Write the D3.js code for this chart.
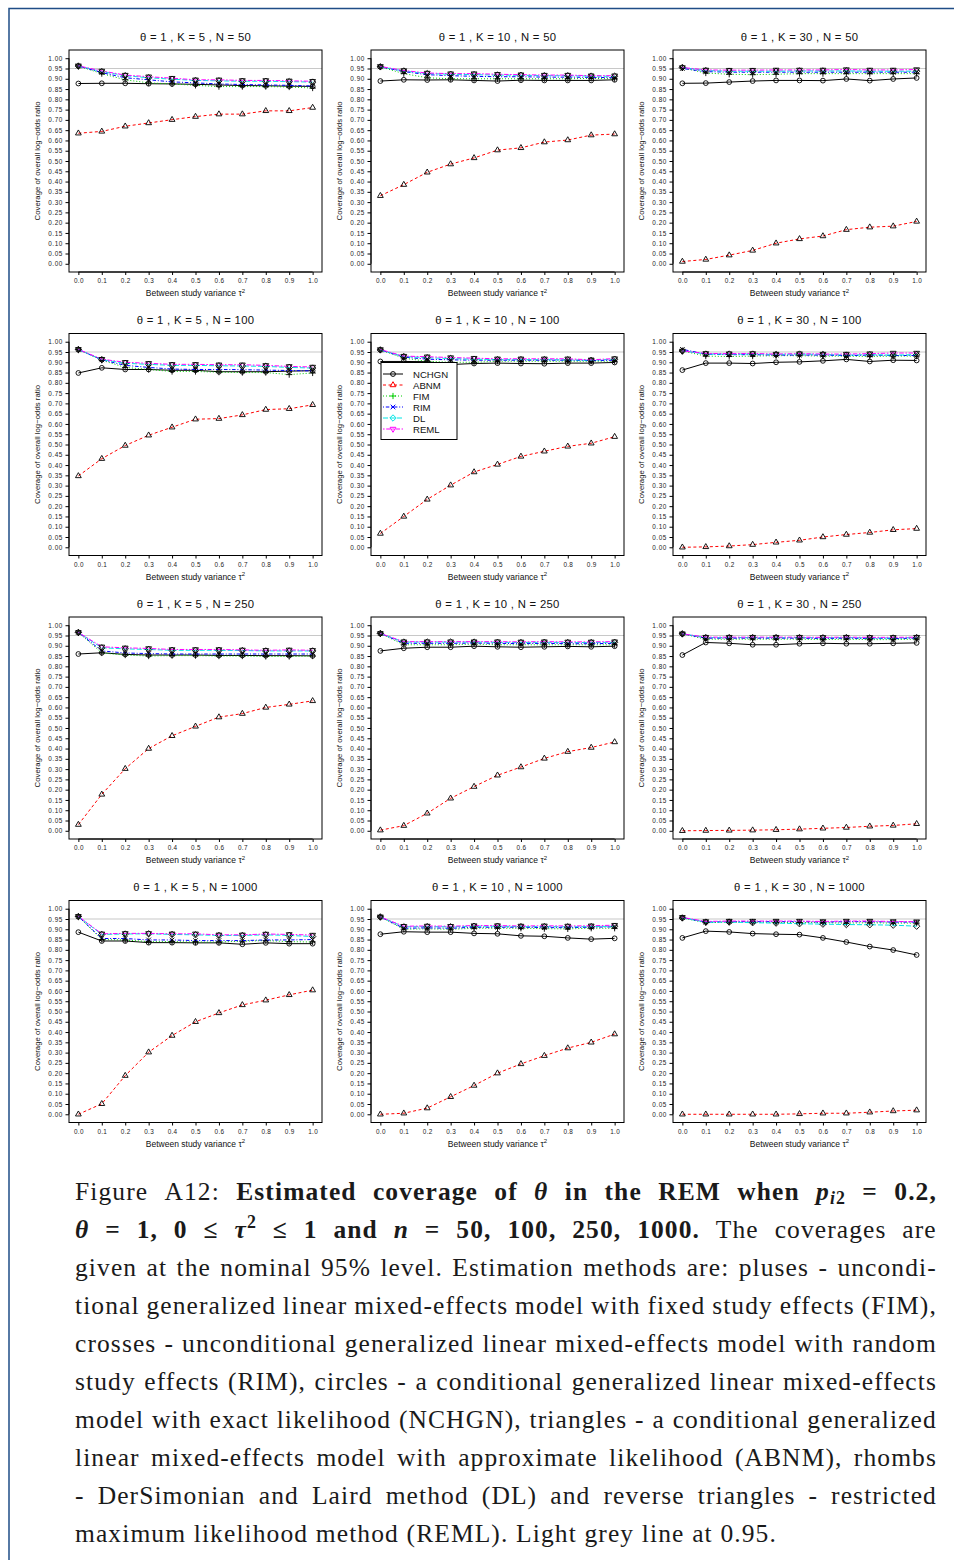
<!DOCTYPE html>
<html>
<head>
<meta charset="utf-8">
<script src="https://cdn.jsdelivr.net/npm/d3@7"></script>
<style>
  html, body { margin: 0; padding: 0; background: #fff; }
  #page { position: relative; width: 955px; height: 1560px; overflow: hidden; }
  svg { position: absolute; left: 0; top: 0; }
  #caption {
    position: absolute; left: 75px; top: 1173px; width: 862px;
    font-family: "Liberation Serif", "Times New Roman", serif;
    font-size: 25.5px; line-height: 38px; color: #1a1a1a;
  }
  #caption .line { display: flex; justify-content: space-between; white-space: nowrap; height: 38px; }
  #caption .line.last { justify-content: flex-start; }
  #caption .line.last span { margin-right: 0.3em; }
  #caption sub { font-size: 0.7em; vertical-align: -0.25em; line-height: 0; }
  #caption sup { font-size: 0.7em; vertical-align: 0.55em; line-height: 0; }
</style>
</head>
<body>
<div id="page">
  <svg id="fig" width="955" height="1560"></svg>
  <div id="caption"></div>
</div>
<script>
// Between-study variance grid (x axis) and the simulation settings
const tau2 = [0.0, 0.1, 0.2, 0.3, 0.4, 0.5, 0.6, 0.7, 0.8, 0.9, 1.0];
const kValues = [5, 10, 30];
const nValues = [50, 100, 250, 1000];
const methods = ["NCHGN", "ABNM", "FIM", "RIM", "DL", "REML"];
const xTickLabels = ["0.0","0.1","0.2","0.3","0.4","0.5","0.6","0.7","0.8","0.9","1.0"];
const yTickValues = [0,0.05,0.1,0.15,0.2,0.25,0.3,0.35,0.4,0.45,0.5,0.55,0.6,0.65,0.7,0.75,0.8,0.85,0.9,0.95,1.0];
const nominal = 0.95;

// Coverage per method; one row per panel, panels ordered (N=50: K=5,10,30), (N=100: ...), ...
const NCHGN = [
  [0.877,0.878,0.878,0.876,0.875,0.873,0.870,0.867,0.866,0.864,0.863],
  [0.889,0.895,0.894,0.895,0.892,0.889,0.893,0.892,0.892,0.892,0.895],
  [0.878,0.879,0.884,0.889,0.892,0.892,0.891,0.899,0.891,0.899,0.904],
  [0.848,0.873,0.865,0.865,0.861,0.861,0.854,0.854,0.854,0.857,0.859],
  [0.904,0.904,0.903,0.889,0.894,0.896,0.894,0.893,0.896,0.896,0.899],
  [0.862,0.896,0.896,0.894,0.900,0.902,0.907,0.914,0.904,0.910,0.909],
  [0.860,0.866,0.858,0.855,0.855,0.855,0.853,0.853,0.852,0.852,0.851],
  [0.875,0.888,0.893,0.893,0.898,0.895,0.893,0.895,0.897,0.895,0.898],
  [0.855,0.916,0.912,0.905,0.905,0.910,0.912,0.910,0.910,0.912,0.914],
  [0.886,0.843,0.843,0.835,0.835,0.834,0.834,0.827,0.834,0.830,0.830],
  [0.876,0.888,0.886,0.886,0.880,0.878,0.868,0.866,0.858,0.852,0.856],
  [0.858,0.891,0.887,0.879,0.876,0.874,0.858,0.838,0.816,0.799,0.775]
];
const ABNM = [
  [0.635,0.644,0.669,0.685,0.701,0.716,0.728,0.728,0.744,0.744,0.760],
  [0.331,0.385,0.445,0.485,0.515,0.553,0.564,0.592,0.602,0.626,0.631],
  [0.011,0.021,0.042,0.065,0.100,0.121,0.135,0.166,0.178,0.183,0.206],
  [0.347,0.431,0.495,0.545,0.584,0.623,0.626,0.644,0.670,0.674,0.693],
  [0.067,0.150,0.233,0.302,0.366,0.403,0.442,0.467,0.491,0.506,0.538],
  [0.000,0.002,0.006,0.013,0.024,0.034,0.050,0.062,0.072,0.085,0.091],
  [0.030,0.177,0.302,0.400,0.462,0.508,0.553,0.570,0.600,0.615,0.632],
  [0.003,0.025,0.085,0.158,0.215,0.270,0.310,0.352,0.385,0.405,0.432],
  [0.000,0.001,0.002,0.003,0.005,0.008,0.012,0.016,0.022,0.026,0.034],
  [0.000,0.051,0.188,0.302,0.383,0.450,0.493,0.532,0.555,0.581,0.604],
  [0.000,0.005,0.030,0.085,0.140,0.200,0.245,0.285,0.322,0.350,0.390],
  [0.000,0.000,0.000,0.000,0.000,0.002,0.005,0.005,0.010,0.016,0.020]
];
const FIM = [
  [0.962,0.925,0.895,0.880,0.875,0.868,0.862,0.862,0.862,0.860,0.855],
  [0.958,0.925,0.905,0.900,0.900,0.900,0.900,0.900,0.900,0.902,0.900],
  [0.953,0.928,0.922,0.920,0.922,0.925,0.925,0.925,0.925,0.925,0.925],
  [0.962,0.910,0.875,0.865,0.855,0.855,0.852,0.850,0.850,0.840,0.848],
  [0.960,0.920,0.905,0.900,0.900,0.905,0.905,0.905,0.905,0.905,0.905],
  [0.955,0.930,0.928,0.930,0.932,0.932,0.930,0.930,0.928,0.930,0.930],
  [0.965,0.865,0.855,0.850,0.852,0.852,0.850,0.850,0.848,0.848,0.850],
  [0.960,0.905,0.905,0.905,0.908,0.905,0.905,0.905,0.905,0.905,0.905],
  [0.958,0.932,0.932,0.932,0.932,0.932,0.930,0.932,0.930,0.930,0.932],
  [0.962,0.850,0.848,0.840,0.840,0.838,0.838,0.842,0.845,0.840,0.838],
  [0.960,0.900,0.902,0.900,0.905,0.905,0.905,0.903,0.902,0.905,0.905],
  [0.955,0.932,0.935,0.935,0.933,0.933,0.932,0.930,0.932,0.930,0.930]
];
const RIM = [
  [0.962,0.930,0.905,0.895,0.885,0.880,0.875,0.872,0.870,0.868,0.865],
  [0.958,0.935,0.920,0.915,0.912,0.910,0.910,0.908,0.908,0.907,0.905],
  [0.950,0.935,0.932,0.932,0.932,0.932,0.932,0.932,0.932,0.932,0.932],
  [0.962,0.912,0.885,0.875,0.867,0.865,0.865,0.864,0.862,0.860,0.858],
  [0.960,0.925,0.915,0.912,0.910,0.910,0.910,0.910,0.910,0.908,0.910],
  [0.963,0.940,0.937,0.937,0.935,0.935,0.935,0.932,0.935,0.933,0.933],
  [0.965,0.875,0.865,0.862,0.860,0.860,0.860,0.860,0.860,0.860,0.860],
  [0.960,0.912,0.912,0.912,0.913,0.912,0.910,0.912,0.910,0.910,0.912],
  [0.958,0.937,0.937,0.937,0.937,0.937,0.935,0.937,0.935,0.935,0.937],
  [0.962,0.855,0.855,0.848,0.848,0.845,0.845,0.845,0.848,0.848,0.850],
  [0.960,0.905,0.907,0.905,0.910,0.910,0.910,0.908,0.908,0.910,0.912],
  [0.957,0.935,0.937,0.937,0.937,0.937,0.935,0.937,0.937,0.935,0.935]
];
const DL = [
  [0.962,0.935,0.915,0.905,0.898,0.892,0.890,0.888,0.888,0.886,0.884],
  [0.958,0.938,0.925,0.922,0.920,0.918,0.917,0.915,0.915,0.913,0.912],
  [0.955,0.940,0.937,0.937,0.937,0.938,0.938,0.938,0.937,0.937,0.937],
  [0.962,0.913,0.895,0.890,0.885,0.885,0.883,0.882,0.880,0.875,0.872],
  [0.960,0.928,0.922,0.918,0.915,0.913,0.913,0.913,0.912,0.910,0.915],
  [0.955,0.940,0.940,0.940,0.938,0.940,0.938,0.935,0.937,0.935,0.937],
  [0.965,0.890,0.885,0.882,0.878,0.878,0.878,0.877,0.875,0.875,0.875],
  [0.960,0.918,0.918,0.918,0.918,0.917,0.916,0.917,0.916,0.916,0.917],
  [0.958,0.940,0.940,0.940,0.940,0.940,0.939,0.940,0.938,0.938,0.940],
  [0.962,0.875,0.877,0.878,0.875,0.873,0.870,0.870,0.873,0.870,0.865],
  [0.960,0.912,0.913,0.912,0.915,0.915,0.913,0.913,0.912,0.913,0.915],
  [0.955,0.935,0.935,0.932,0.930,0.927,0.925,0.923,0.922,0.920,0.915]
];
const REML = [
  [0.963,0.938,0.918,0.910,0.903,0.895,0.895,0.892,0.892,0.890,0.888],
  [0.960,0.940,0.928,0.925,0.925,0.922,0.920,0.918,0.918,0.915,0.915],
  [0.955,0.943,0.942,0.942,0.943,0.943,0.943,0.945,0.943,0.943,0.945],
  [0.963,0.915,0.900,0.895,0.890,0.890,0.888,0.888,0.885,0.880,0.877],
  [0.962,0.930,0.927,0.923,0.920,0.917,0.917,0.917,0.917,0.912,0.918],
  [0.955,0.943,0.942,0.943,0.940,0.942,0.940,0.940,0.942,0.945,0.945],
  [0.965,0.895,0.890,0.887,0.882,0.882,0.882,0.880,0.878,0.880,0.878],
  [0.960,0.920,0.920,0.920,0.920,0.920,0.919,0.920,0.919,0.919,0.920],
  [0.958,0.942,0.942,0.942,0.942,0.942,0.941,0.942,0.941,0.941,0.942],
  [0.963,0.878,0.880,0.880,0.878,0.878,0.873,0.873,0.877,0.875,0.872],
  [0.960,0.915,0.916,0.915,0.918,0.918,0.916,0.917,0.916,0.917,0.920],
  [0.958,0.938,0.940,0.940,0.940,0.940,0.938,0.940,0.940,0.938,0.937]
];
const coverage = { NCHGN, ABNM, FIM, RIM, DL, REML };

// Drawing styles (R default palette, lty 1..6, pch 1..6)
const lineColors = ["#000000", "#ff0000", "#00cd00", "#0000ff", "#00e5e5", "#ff00ff"];
const dashes = ["none", "3,2.5", "1,2", "1,1.8,3.5,1.8", "5,2", "1.6,1.6,4.5,1.6"];
const markerKinds = ["circle", "triangle", "plus", "cross", "diamond", "itriangle"];

function markerPath(kind) {
  switch (kind) {
    case "circle": return "M2.4,0A2.4,2.4 0 1,1 -2.4,0A2.4,2.4 0 1,1 2.4,0Z";
    case "triangle": return "M0,-3.3L2.9,1.7L-2.9,1.7Z";
    case "plus": return "M-3.1,0H3.1M0,-3.1V3.1";
    case "cross": return "M-2.3,-2.3L2.3,2.3M-2.3,2.3L2.3,-2.3";
    case "diamond": return "M0,-3.2L3.2,0L0,3.2L-3.2,0Z";
    case "itriangle": return "M0,3.3L2.9,-1.7L-2.9,-1.7Z";
  }
}

const svg = d3.select("#fig");
svg.append("rect").attr("width", 955).attr("height", 1560).attr("fill", "#fff");

// page frame
svg.append("path")
  .attr("d", "M9,1560V8.5H954")
  .attr("fill", "none").attr("stroke", "#1f4d86").attr("stroke-width", 1.5);

const boxX = [69, 371, 673];
const boxW = 253;
const boxY = [50, 333.5, 617, 900.5];
const boxH = 222;
const sans = "'Liberation Sans', Arial, Helvetica, sans-serif";

nValues.forEach((n, r) => {
  kValues.forEach((k, c) => {
    const idx = r * 3 + c;
    const bx = boxX[c], by = boxY[r];
    const x = d3.scaleLinear().domain([-0.04, 1.04]).range([bx, bx + boxW]);
    const y = d3.scaleLinear().domain([-0.04, 1.04]).range([by + boxH, by]);
    const g = svg.append("g");

    // panel title
    g.append("text")
      .attr("x", bx + boxW / 2).attr("y", by - 9.5)
      .attr("text-anchor", "middle")
      .attr("font-family", sans).attr("font-size", 11.3).attr("fill", "#111")
      .attr("letter-spacing", 0.3)
      .text(`θ = 1 , K = ${k} , N = ${n}`);

    // nominal level reference line
    g.append("line")
      .attr("x1", bx).attr("x2", bx + boxW)
      .attr("y1", y(nominal)).attr("y2", y(nominal))
      .attr("stroke", "#c8c8c8").attr("stroke-width", 1.1);

    // axes
    const yAxis = d3.axisLeft(y).tickValues(yTickValues)
      .tickFormat(d3.format(".2f")).tickSize(3.5).tickSizeOuter(0).tickPadding(2.5);
    const ya = g.append("g").attr("transform", `translate(${bx},0)`).call(yAxis);
    ya.select(".domain").attr("d", `M0,${y(0)}V${y(1)}`).attr("stroke", "#000");
    ya.selectAll("text").attr("font-family", sans).attr("font-size", 6.4)
      .attr("letter-spacing", 0.6).attr("fill", "#222");
    ya.selectAll("line").attr("stroke", "#000");

    const xAxis = d3.axisBottom(x).tickValues(tau2)
      .tickFormat((d, i) => xTickLabels[i]).tickSize(3).tickSizeOuter(0).tickPadding(3.5);
    const xa = g.append("g").attr("transform", `translate(0,${by + boxH})`).call(xAxis);
    xa.select(".domain").attr("d", `M${x(0)},0H${x(1)}`).attr("stroke", "#000");
    xa.selectAll("text").attr("font-family", sans).attr("font-size", 6.4)
      .attr("letter-spacing", 0.3).attr("fill", "#222");
    xa.selectAll("line").attr("stroke", "#000");

    // plot box
    g.append("rect").attr("x", bx).attr("y", by).attr("width", boxW).attr("height", boxH)
      .attr("fill", "none").attr("stroke", "#000").attr("stroke-width", 1);

    // axis titles
    const xl = g.append("text")
      .attr("x", bx + boxW / 2).attr("y", by + boxH + 24)
      .attr("text-anchor", "middle")
      .attr("font-family", sans).attr("font-size", 8.5).attr("fill", "#111");
    xl.append("tspan").text("Between study variance τ");
    xl.append("tspan").attr("dy", -3.5).attr("font-size", 6).text("2");

    g.append("text")
      .attr("transform", `translate(${bx - 29},${by + boxH / 2}) rotate(-90)`)
      .attr("text-anchor", "middle")
      .attr("font-family", sans).attr("font-size", 7.8).attr("fill", "#111")
      .text("Coverage of overall log\u2212odds ratio");

    // series: line then black symbols
    methods.forEach((m, mi) => {
      const vals = coverage[m][idx];
      const pts = tau2.map((t2, i) => [x(t2), y(vals[i])]);
      g.append("path")
        .attr("d", d3.line()(pts))
        .attr("fill", "none").attr("stroke", lineColors[mi])
        .attr("stroke-width", 1)
        .attr("stroke-dasharray", dashes[mi]);
      g.append("g").selectAll("path").data(pts).join("path")
        .attr("transform", d => `translate(${d[0]},${d[1]})`)
        .attr("d", markerPath(markerKinds[mi]))
        .attr("fill", "none").attr("stroke", "#000").attr("stroke-width", 0.9);
    });

    // legend in the K = 10, N = 100 panel
    if (k === 10 && n === 100) {
      const lx = bx + 10, ly = by + 29;
      const lg = g.append("g");
      lg.append("rect").attr("x", lx).attr("y", ly).attr("width", 76).attr("height", 77)
        .attr("fill", "#fff").attr("stroke", "#000").attr("stroke-width", 1);
      methods.forEach((m, mi) => {
        const yy = ly + 11.5 + mi * 11;
        lg.append("line").attr("x1", lx + 2).attr("x2", lx + 22).attr("y1", yy).attr("y2", yy)
          .attr("stroke", lineColors[mi]).attr("stroke-width", 1)
          .attr("stroke-dasharray", dashes[mi]);
        lg.append("path").attr("transform", `translate(${lx + 12},${yy})`)
          .attr("d", markerPath(markerKinds[mi]))
          .attr("fill", "none").attr("stroke", lineColors[mi]).attr("stroke-width", 1);
        lg.append("text").attr("x", lx + 32).attr("y", yy + 3.5)
          .attr("font-family", sans).attr("font-size", 9.6).attr("fill", "#111")
          .text(m);
      });
    }
  });
});

// caption, one justified row per line
const captionLines = [
  'Figure A12: <b>Estimated coverage of <i>θ</i> in the REM when <i>p</i><sub><i>i</i>2</sub> = 0.2,</b>',
  '<b><i>θ</i> = 1, 0 ≤ <i>τ</i><sup>2</sup> ≤ 1 and <i>n</i> = 50, 100, 250, 1000.</b> The coverages are',
  'given at the nominal 95% level. Estimation methods are: pluses - uncondi-',
  'tional generalized linear mixed-effects model with fixed study effects (FIM),',
  'crosses - unconditional generalized linear mixed-effects model with random',
  'study effects (RIM), circles - a conditional generalized linear mixed-effects',
  'model with exact likelihood (NCHGN), triangles - a conditional generalized',
  'linear mixed-effects model with approximate likelihood (ABNM), rhombs',
  '- DerSimonian and Laird method (DL) and reverse triangles - restricted',
  'maximum likelihood method (REML). Light grey line at 0.95.'
];
const cap = d3.select("#caption");
const rows = [];
captionLines.forEach((html, i) => {
  const row = cap.append("div").attr("class", "line" + (i === captionLines.length - 1 ? " last" : ""));
  rows.push(row);
  // split on spaces outside of tags, keeping markup intact
  const words = [];
  let cur = "", depth = 0;
  for (const ch of html) {
    if (ch === "<") depth++;
    if (ch === ">") depth--;
    if (ch === " " && depth === 0) { words.push(cur); cur = ""; }
    else cur += ch;
  }
  words.push(cur);
  // carry open bold / italic state across word boundaries
  let openB = false, openI = false;
  words.forEach(w => {
    const full = (openB ? "<b>" : "") + (openI ? "<i>" : "") + w;
    const tags = full.match(/<\/?[bi]>/g) || [];
    let b = false, it = false;
    tags.forEach(tg => {
      if (tg === "<b>") b = true; else if (tg === "</b>") b = false;
      else if (tg === "<i>") it = true; else if (tg === "</i>") it = false;
    });
    openB = b; openI = it;
    row.append("span").html(full + (it ? "</i>" : "") + (b ? "</b>" : ""));
  });
});

// widest letter spacing that still leaves room for normal word gaps on every justified row
function fits(spacing) {
  cap.style("letter-spacing", spacing + "px");
  return rows.slice(0, -1).every(row => {
    const spans = row.selectAll("span").nodes();
    const total = d3.sum(spans, s => s.getBoundingClientRect().width);
    return total + (spans.length - 1) * 6.5 <= 862;
  });
}
let ls = 1.4;
while (ls > 0 && !fits(ls)) ls -= 0.1;
</script>
</body>
</html>
